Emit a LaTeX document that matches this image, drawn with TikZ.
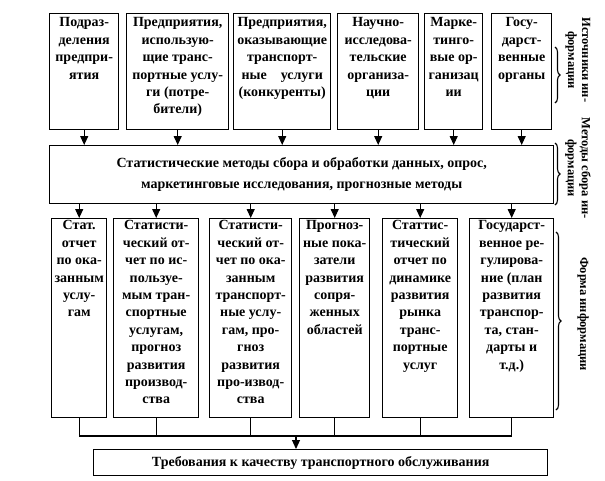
\documentclass[tikz,border=0pt]{standalone}
\usepackage{fontspec}
\setmainfont{Liberation Serif}
\usetikzlibrary{arrows.meta,decorations.pathreplacing}
\newcommand\boxtxt[4]{\parbox[c][#2pt][t]{#1pt}{\centering\vspace*{#3pt}#4\par}}
\begin{document}
\begin{tikzpicture}[x=1pt,y=-1pt,
  box/.style={draw, line width=1.4pt, inner sep=0pt, anchor=north west,
    font=\bfseries\fontsize{14}{17.4}\selectfont},
  arr/.style={line width=1.1pt, -{Triangle[length=9pt,width=8pt]}},
  con/.style={line width=1.1pt},
  brc/.style={decorate, decoration={brace, amplitude=5pt}, line width=1.1pt},
  side/.style={rotate=-90, align=center, inner sep=0pt,
    font=\bfseries\fontsize{12.5}{14}\selectfont}]
\useasboundingbox (0,0) rectangle (605,480);
% top row
\node[box] (t1) at (49,13) {\boxtxt{69}{116}{4}{Подраз-\\деления\\предпри-\\ятия}};
\node[box] (t2) at (126,13) {\boxtxt{102}{116}{4}{Предприятия,\\использую-\\щие транс-\\портные услу-\\ги (потре-\\бители)}};
\node[box] (t3) at (233,13) {\boxtxt{97}{116}{4}{Предприятия,\\оказывающие\\транспорт-\\ные\hspace{1em}услуги\\(конкуренты)}};
\node[box] (t4) at (337,13) {\boxtxt{81}{116}{4}{Научно-\\исследова-\\тельские\\организа-\\ции}};
\node[box] (t5) at (424,13) {\boxtxt{58}{116}{4}{Марке-\\тинго-\\вые ор-\\ганизац\\ии}};
\node[box] (t6) at (491,13) {\boxtxt{60}{116}{4}{Госу-\\дарст-\\венные\\органы}};
% middle
\node[box, font=\bfseries\fontsize{14}{21}\selectfont] (m) at (49,145) {\parbox[c][58pt][c]{504pt}{\centering Статистические методы сбора и обработки данных, опрос,\\маркетинговые исследования, прогнозные методы\par}};
% bottom row
\node[box] (b1) at (51,218) {\boxtxt{55}{199}{2}{Стат.\\отчет\\по ока-\\занным\\услу-\\гам}};
\node[box] (b2) at (113,218) {\boxtxt{85}{199}{2}{Статисти-\\ческий от-\\чет по ис-\\пользуе-\\мым тран-\\спортные\\услугам,\\прогноз\\развития\\производ-\\ства}};
\node[box] (b3) at (209,218) {\boxtxt{82}{199}{2}{Статисти-\\ческий от-\\чет по ока-\\занным\\транспорт-\\ные услу-\\гам, про-\\гноз\\развития\\про-извод-\\ства}};
\node[box] (b4) at (299,218) {\boxtxt{70}{199}{2}{Прогноз-\\ные пока-\\затели\\развития\\сопря-\\женных\\областей}};
\node[box] (b5) at (382,218) {\boxtxt{75}{199}{2}{Статтис-\\тический\\отчет по\\динамике\\развития\\рынка\\транс-\\портные\\услуг}};
\node[box] (b6) at (469,218) {\boxtxt{84}{199}{2}{Государст-\\венное ре-\\гулирова-\\ние (план\\развития\\транспор-\\та, стан-\\дарты и\\т.д.)}};
% final
\node[box] (f) at (93,449) {\parbox[c][26pt][c]{454pt}{\centering Требования к качеству транспортного обслуживания\par}};
% arrows top -> middle
\foreach \n in {t1,t2,t3,t4,t5,t6}
  \draw[arr] (\n.south) -- (\n.south |- m.north);
% arrows middle -> bottom
\foreach \n in {b1,b2,b3,b4,b5,b6}
  \draw[arr] (\n.north |- m.south) -- (\n.north);
% collector
\coordinate (j) at (296,436);
\foreach \n in {b1,b2,b3,b4,b5,b6}
  \draw[con] (\n.south) -- (\n.south |- j);
\draw[con] (b1.south |- j) -- (b6.south |- j);
\draw[arr] (j) -- (j |- f.north);
% braces
\draw[brc] (555,47) -- (555,103);
\draw[brc] (555,143) -- (555,205);
\draw[brc] (556,232) -- (556,410);
% side labels
\node[side] (s1) at (578,60) {Источники ин-\\формации};
\node[side] (s2) at (578,168) {Методы сбора ин-\\формации};
\node[side] (s3) at (583,314) {Форма информации};
\end{tikzpicture}
\end{document}
